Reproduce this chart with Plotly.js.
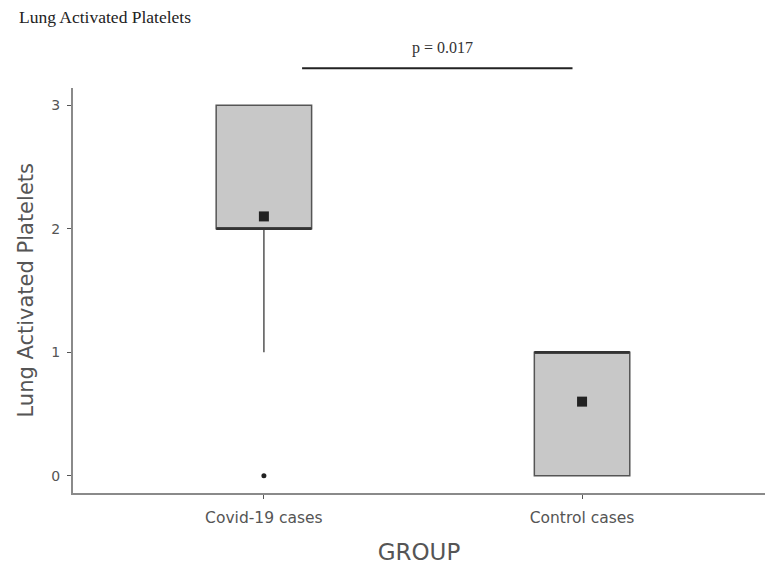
<!DOCTYPE html>
<html>
<head>
<meta charset="utf-8">
<script src="https://cdn.plot.ly/plotly-3.0.1.min.js"></script>
<style>html,body{margin:0;padding:0;background:#fff;}#chart{width:765px;height:569px;}</style>
</head>
<body>
<div id="chart"></div>
<script>
// Data
const groups = ["Covid-19 cases", "Control cases"];
const groupPos = [1, 2];
const q1 = [2, 0];
const median = [2, 1];
const q3 = [3, 1];
const lowerWhisker = [1, 0];
const upperWhisker = [3, 1];
const means = [2.1, 0.6];
const outlierGroup = [1];
const outlierValue = [0];
const pLabel = "p = 0.017";
const yTicks = [0, 1, 2, 3];
const yTitle = "Lung Activated Platelets";
const xTitle = "GROUP";
const chartTitle = "Lung Activated Platelets";

const boxWidth = 0.3;
const traces = [];

groups.forEach((g, i) => {
  traces.push({
    type: 'box',
    name: g,
    x: [groupPos[i]],
    q1: [q1[i]], median: [median[i]], q3: [q3[i]],
    lowerfence: [lowerWhisker[i]], upperfence: [upperWhisker[i]],
    width: boxWidth,
    fillcolor: '#c8c8c8',
    line: {color: '#555555', width: 1.5},
    whiskerwidth: 0,
    boxpoints: false,
    hoverinfo: 'skip',
    showlegend: false
  });
  // thicker median line
  traces.push({
    type: 'scatter', mode: 'lines',
    x: [groupPos[i] - boxWidth / 2, groupPos[i] + boxWidth / 2],
    y: [median[i], median[i]],
    line: {color: '#333333', width: 2.5},
    hoverinfo: 'skip', showlegend: false
  });
});

traces.push({
  type: 'scatter', mode: 'markers',
  x: groupPos, y: means,
  marker: {symbol: 'square', size: 10, color: '#222222'},
  hoverinfo: 'skip', showlegend: false
});
traces.push({
  type: 'scatter', mode: 'markers',
  x: outlierGroup, y: outlierValue,
  marker: {symbol: 'circle', size: 5, color: '#222222'},
  cliponaxis: false,
  hoverinfo: 'skip', showlegend: false
});

const sans = 'DejaVu Sans, sans-serif';
const serif = 'Liberation Serif, serif';

const layout = {
  width: 765, height: 569,
  margin: {l: 73, r: 0, t: 88, b: 76},
  paper_bgcolor: '#ffffff', plot_bgcolor: '#ffffff',
  showlegend: false,
  title: {
    text: chartTitle,
    font: {family: serif, size: 17.5, color: '#222'},
    x: 19 / 765, xanchor: 'left', xref: 'container',
    y: 1 - 17 / 569, yanchor: 'middle', yref: 'container'
  },
  xaxis: {
    range: [0.4, 2.575],
    tickvals: groupPos, ticktext: groups,
    showgrid: false, zeroline: false,
    showline: true, linecolor: '#8a8a8a', linewidth: 2,
    ticks: 'outside', ticklen: 4, tickcolor: '#555', tickwidth: 1,
    ticklabelstandoff: 5,
    tickfont: {family: sans, size: 15.5, color: '#555'},
    title: {text: xTitle, font: {family: sans, size: 23, color: '#555'}, standoff: 18}
  },
  yaxis: {
    range: [-0.14, 3.14],
    tickvals: yTicks,
    showgrid: false, zeroline: false,
    showline: true, linecolor: '#8a8a8a', linewidth: 2,
    ticks: 'outside', ticklen: 4, tickcolor: '#555', tickwidth: 1,
    ticklabelstandoff: 4,
    tickfont: {family: sans, size: 14, color: '#555'}
  },
  shapes: [{
    type: 'line', xref: 'x', yref: 'paper',
    x0: 1.12, x1: 1.97, y0: 1.049, y1: 1.049,
    line: {color: '#222', width: 2}
  }],
  annotations: [{
    text: pLabel, xref: 'paper', yref: 'paper',
    x: (442 - 73) / 692, y: 1.099, xanchor: 'center', yanchor: 'middle',
    showarrow: false,
    font: {family: serif, size: 16, color: '#333'}
  }, {
    text: yTitle, xref: 'paper', yref: 'paper',
    x: (25 - 73) / 692, y: 0.5, xanchor: 'center', yanchor: 'middle',
    textangle: -90, showarrow: false,
    font: {family: sans, size: 21, color: '#555'}
  }]
};

Plotly.newPlot('chart', traces, layout, {displayModeBar: false, staticPlot: true});
</script>
</body>
</html>
